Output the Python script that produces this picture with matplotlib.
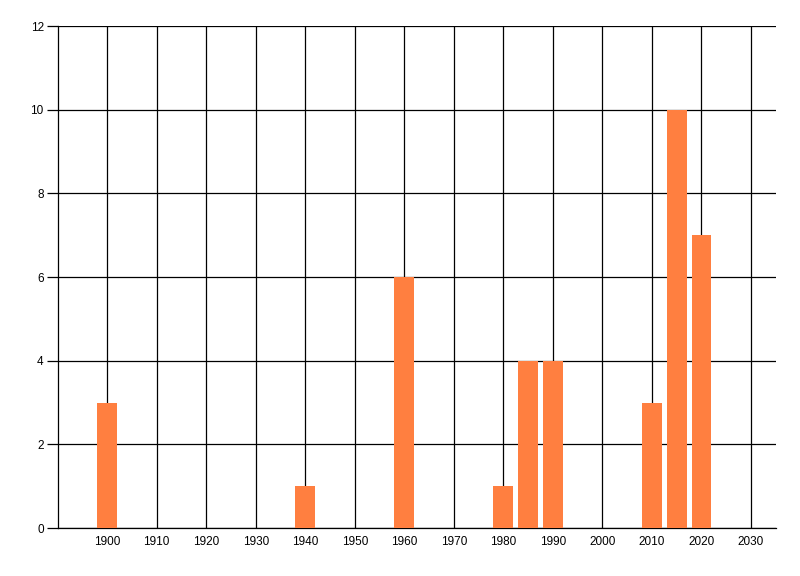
import matplotlib
matplotlib.use('Agg')
import matplotlib.pyplot as plt

years = [1900, 1940, 1960, 1980, 1985, 1990, 2010, 2015, 2020]
counts = [3, 1, 6, 1, 4, 4, 3, 10, 7]
x_ticks = list(range(1900, 2031, 10))
y_ticks = list(range(0, 13, 2))

plt.rcParams['font.family'] = ['Liberation Sans', 'DejaVu Sans']

fig = plt.figure(figsize=(8, 5.76), dpi=100)
ax = fig.add_axes([0.0721, 0.0833, 0.8975, 0.8715])

ax.bar(years, counts, width=4, color='#FF7F40', zorder=3)

ax.set_xlim(1890, 2035)
ax.set_ylim(0, 12)
ax.set_xticks(x_ticks)
ax.set_yticks(y_ticks)
ax.grid(True, color='black', linewidth=0.9, zorder=0)

for side in ['top', 'right']:
    ax.spines[side].set_visible(False)
for side in ['left', 'bottom']:
    ax.spines[side].set_linewidth(0.9)

ax.tick_params(axis='x', length=0, pad=6, labelsize=8.5)
ax.tick_params(axis='y', length=8, width=0.9, pad=2, labelsize=8.5)

fig.savefig('out.png', dpi=100)
